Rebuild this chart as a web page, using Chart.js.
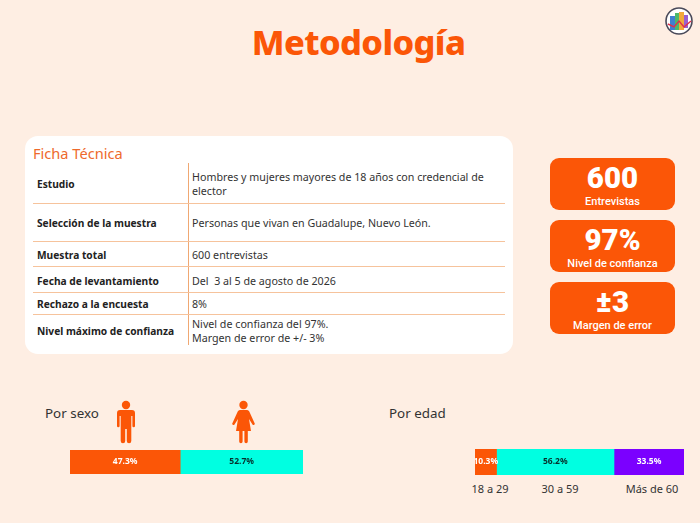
<!DOCTYPE html>
<html lang="es"><head><meta charset="utf-8">
<script src="https://cdn.jsdelivr.net/npm/chart.js@4"></script>
<style>
html,body{margin:0;padding:0;width:700px;height:523px;overflow:hidden;background:#feeee3;font-family:"Noto Sans",sans-serif;color:#2b2b2b}
.a{position:absolute;white-space:nowrap}
#title{left:0;width:717px;top:17px;text-align:center;font-size:34.4px;font-weight:800;color:#fb5607;line-height:50px;letter-spacing:-.6px}
#card{left:25px;top:136px;width:488px;height:218px;background:#fff;border-radius:13px}
#ficha{left:33px;top:143px;font-size:14.6px;line-height:20px;color:#ee6a2c}
.h{position:absolute;left:33px;width:472px;height:1px;background:#f6c39c}
#v{left:188px;top:163px;width:1px;height:182px;background:#f0a873}
.k{left:37px;font-size:10.2px;font-weight:700;line-height:14px;transform:translateY(-50%);color:#222}
.d{left:192px;font-size:10.7px;line-height:14px;transform:translateY(-50%);color:#333}
.box{left:550px;width:125px;background:#fb5607;border-radius:9px;color:#fff;text-align:center}
.n{position:absolute;left:0;width:100%;top:3.5px;font-family:Roboto,sans-serif;font-size:29.5px;font-weight:900;line-height:32px}
.l{position:absolute;left:0;width:100%;bottom:1.5px;font-family:Roboto,sans-serif;font-size:11px;line-height:14px;font-weight:500}
.sec{font-size:13.4px;line-height:18px;color:#333}
.tick{font-size:11px;line-height:14px;color:#333;transform:translateX(-50%)}
canvas{position:absolute;display:block}
</style></head><body>
<div class="a" id="title">Metodología</div>
<svg class="a" style="left:665px;top:7px" width="28" height="28" viewBox="0 0 28 28">
<circle cx="14" cy="14" r="13" fill="#fff" stroke="#4a4a5a" stroke-width="1.6"/>
<rect x="5" y="9" width="5" height="14" fill="#3f7fd0"/><rect x="10" y="6" width="4" height="17" fill="#4cb86a"/><rect x="14" y="5" width="5" height="18" fill="#f2a93b"/><rect x="19" y="8" width="4" height="13" fill="#9a5fd0"/>
<polyline points="3,17 9,20 14,14 19,20 26,14" fill="none" stroke="#e0304a" stroke-width="1.4"/></svg>
<div class="a" id="card"></div>
<div class="a" id="ficha">Ficha Técnica</div>
<div class="a" id="v"></div>
<div id="rows"></div>
<div id="boxes"></div>
<div class="a sec" style="left:45px;top:404px">Por sexo</div>
<div class="a sec" style="left:389px;top:404px">Por edad</div>
<svg class="a" style="left:117px;top:400px" width="18" height="44" viewBox="0 0 18 44" fill="#fb5607">
<circle cx="9" cy="5" r="4.200"/>
<path d="M3 10H15A3 3 0 0 1 18 13V26A1.300 1.300 0 0 1 15.400 26V16H14.300V41A2 2 0 0 1 9.800 41V29H8.200V41A2 2 0 0 1 3.700 41V16H2.600V26A1.300 1.300 0 0 1 0 26V13A3 3 0 0 1 3 10Z"/></svg>
<svg class="a" style="left:232px;top:400px" width="23" height="44" viewBox="0 0 23 44" fill="#fb5607">
<circle cx="11.500" cy="5" r="4.200"/>
<path d="M8 10H15C16.500 10 17 11 17.500 12L22.500 23A1.200 1.200 0 0 1 20.500 24.500L17 19L19 31H15.800V41.500A1.700 1.700 0 0 1 12.400 41.500V31H10.600V41.500A1.700 1.700 0 0 1 7.200 41.500V31H4L6 19L2.500 24.500A1.200 1.200 0 0 1 .5 23L5.500 12C6 11 6.500 10 8 10Z"/></svg>
<canvas id="sexo" style="left:70px;top:450px"></canvas>
<canvas id="edad" style="left:475px;top:449px"></canvas>
<div id="ticks"></div>
<script>
const fichaKeys=["Estudio","Selección de la muestra","Muestra total","Fecha de levantamiento","Rechazo a la encuesta","Nivel máximo de confianza"];
const fichaVals=[["Hombres y mujeres mayores de 18 años con credencial de","elector"],["Personas que vivan en Guadalupe, Nuevo León."],["600 entrevistas"],["Del  3 al 5 de agosto de 2026"],["8%"],["Nivel de confianza del 97%.","Margen de error de +/- 3%"]];
const rowCenters=[184,223,255,281,304,331];
const rowLines=[203,241,266,292,314];
const kpiValues=["600","97%","±3"];
const kpiLabels=["Entrevistas","Nivel de confianza","Margen de error"];
const kpiTops=[158,220,282];
const sexoLabels=["Hombres","Mujeres"];
const sexoValues=[47.3,52.7];
const sexoColors=["#fb5607","#00ffe1"];
const sexoText=["#ffffff","#06302c"];
const edadLabels=["18 a 29","30 a 59","Más de 60"];
const edadValues=[10.3,56.2,33.5];
const edadColors=["#fb5607","#00ffe1","#7b00ff"];
const edadText=["#ffffff","#06302c","#ffffff"];
const edadTickX=[490,560,652];

const rows=document.getElementById('rows');
fichaKeys.forEach((k,i)=>{
  rows.insertAdjacentHTML('beforeend',`<div class="a k" style="top:${rowCenters[i]}px">${k}</div><div class="a d" style="top:${rowCenters[i]}px;white-space:pre">${fichaVals[i].join('\n')}</div>`);
});
rowLines.forEach(y=>rows.insertAdjacentHTML('beforeend',`<div class="h" style="top:${y}px"></div>`));
const boxes=document.getElementById('boxes');
kpiValues.forEach((v,i)=>boxes.insertAdjacentHTML('beforeend',`<div class="a box" style="top:${kpiTops[i]}px;height:52px"><div class="n">${v}</div><div class="l">${kpiLabels[i]}</div></div>`));
const ticks=document.getElementById('ticks');
edadLabels.forEach((t,i)=>ticks.insertAdjacentHTML('beforeend',`<div class="a tick" style="left:${edadTickX[i]}px;top:482px">${t}</div>`));

const valueLabels={id:'valueLabels',afterDatasetsDraw(c){
  const x=c.ctx;x.save();x.textAlign='center';x.textBaseline='middle';x.font='700 8.5px "Noto Sans"';
  c.data.datasets.forEach((d,i)=>{const el=c.getDatasetMeta(i).data[0];const p=el.getProps(['x','base','y']);
    x.fillStyle=d.labelColor;x.fillText(d.data[0].toFixed(1)+'%',(p.x+p.base)/2,p.y);});
  x.restore();}};
function stacked(id,labels,values,colors,text,w,h){
  const cv=document.getElementById(id);cv.style.width=w+'px';cv.style.height=h+'px';cv.width=w;cv.height=h;
  new Chart(cv,{type:'bar',plugins:[valueLabels],data:{labels:[''],datasets:labels.map((l,i)=>({label:l,data:[values[i]],backgroundColor:colors[i],labelColor:text[i],barPercentage:1,categoryPercentage:1}))},
  options:{indexAxis:'y',responsive:false,animation:false,layout:{padding:0},plugins:{legend:{display:false},tooltip:{enabled:false}},
  scales:{x:{stacked:true,min:0,max:100,display:false},y:{stacked:true,display:false}}}});
}
stacked('sexo',sexoLabels,sexoValues,sexoColors,sexoText,233,24);
stacked('edad',edadLabels,edadValues,edadColors,edadText,209,26);
</script></body></html>
